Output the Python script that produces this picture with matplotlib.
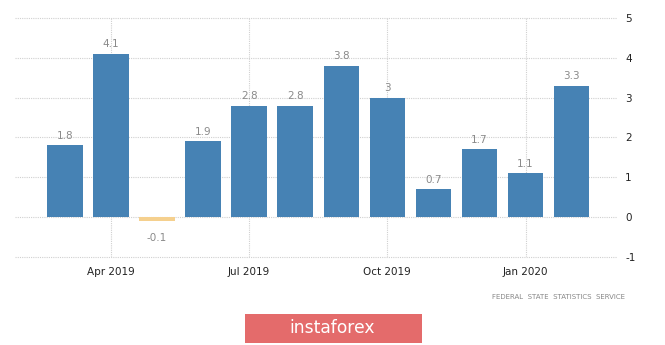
import matplotlib
import matplotlib.pyplot as plt
from matplotlib.patches import FancyBboxPatch

matplotlib.use('AGG')
plt.rcParams['axes.unicode_minus'] = False

months = ['Mar 2019', 'Apr 2019', 'May 2019', 'Jun 2019', 'Jul 2019', 'Aug 2019',
          'Sep 2019', 'Oct 2019', 'Nov 2019', 'Dec 2019', 'Jan 2020', 'Feb 2020']
values = [1.8, 4.1, -0.1, 1.9, 2.8, 2.8, 3.8, 3.0, 0.7, 1.7, 1.1, 3.3]
value_labels = ['1.8', '4.1', '-0.1', '1.9', '2.8', '2.8', '3.8', '3', '0.7', '1.7', '1.1', '3.3']
tick_months = ['Apr 2019', 'Jul 2019', 'Oct 2019', 'Jan 2020']
y_ticks = [-1, 0, 1, 2, 3, 4, 5]

fig = plt.figure(figsize=(6.65, 3.45), dpi=100)
ax = fig.add_axes([0.0226, 0.255, 0.905, 0.693])

x = list(range(len(values)))
colors = ['#4682b4' if v >= 0 else '#f5d08e' for v in values]
ax.bar(x, values, width=0.77, color=colors, zorder=3)

for xi, v, lab in zip(x, values, value_labels):
    if v >= 0:
        ax.text(xi, v + 0.12, lab, ha='center', va='bottom', fontsize=7.5, color='#8a8a8a')
    else:
        ax.text(xi, v - 0.3, lab, ha='center', va='top', fontsize=7.5, color='#8a8a8a')

ax.set_xlim(-1.08, 11.98)
ax.set_ylim(-1, 5)
ax.set_yticks(y_ticks)
ax.yaxis.tick_right()
ax.tick_params(axis='y', length=0, pad=6, labelsize=7.5, labelcolor='#222222')

tick_pos = [months.index(m) for m in tick_months]
ax.set_xticks(tick_pos)
ax.set_xticklabels(tick_months)
ax.tick_params(axis='x', length=0, pad=7, labelsize=7.5, labelcolor='#222222')

ax.grid(True, axis='both', color='#d0d0d0', linestyle=(0, (1, 1)), linewidth=0.8, zorder=0)
# keep the edge gridlines (-1 and 5) from being clipped
for gl in ax.get_ygridlines():
    gl.set_clip_on(False)
for s in ax.spines.values():
    s.set_visible(False)

fig.text(0.94, 0.138, 'FEDERAL  STATE  STATISTICS  SERVICE', ha='right', va='center',
         fontsize=5, color='#888888')

# instaforex banner
box = FancyBboxPatch((245 / 665, 2 / 345), 177 / 665, 29 / 345,
                     boxstyle='square,pad=0', transform=fig.transFigure,
                     facecolor='#e46b6b', edgecolor='none')
fig.patches.append(box)
fig.text(332 / 665, 17 / 345, 'instaforex', ha='center', va='center',
         fontsize=12.3, color='white')

fig.savefig('out.png', dpi=100)
